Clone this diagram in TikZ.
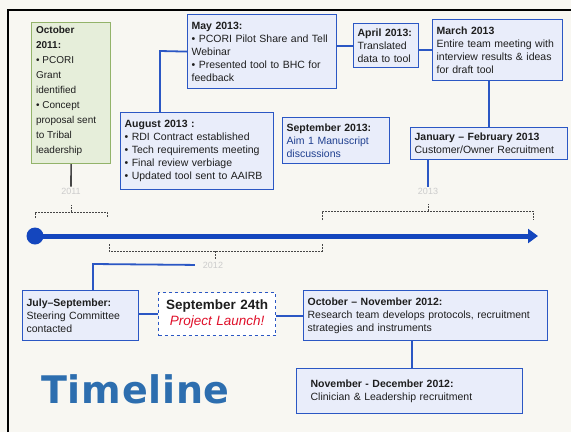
\documentclass[tikz,border=0pt]{standalone}
\usepackage{fontspec}
\setmainfont{Liberation Sans}
\newfontfamily\titlefont[LetterSpace=2]{DejaVu Sans}
\usetikzlibrary{arrows.meta}
\definecolor{bx}{HTML}{2B57C4}
\definecolor{bxfill}{HTML}{E9EDFA}
\definecolor{grn}{HTML}{93B36A}
\definecolor{grnfill}{HTML}{E6EEDA}
\definecolor{arr}{HTML}{1446BE}
\definecolor{bg}{HTML}{F8F7F2}
\definecolor{txt}{HTML}{1E1E1E}
\definecolor{ttl}{HTML}{2D6EAF}
\definecolor{lred}{HTML}{E0102A}
\definecolor{navy}{HTML}{1F3F8F}
\begin{document}
\begin{tikzpicture}[x=1pt,y=-1pt,
  box/.style={draw=bx, line width=1.2pt, fill=bxfill, anchor=north west, inner xsep=4pt, inner ysep=3pt,
    align=left, font=\fontsize{10.5}{13}\selectfont, text=txt},
  conn/.style={draw=bx, line width=1.8pt},
  brace/.style={draw=gray!55!black, line width=0.6pt, dash pattern=on 2pt off 1pt},
  yr/.style={text=gray!40, font=\fontsize{9}{10}\selectfont, inner sep=1pt}]
\useasboundingbox (0,0) rectangle (571,432);
\fill[bg] (0,0) rectangle (571,432);
\draw[line width=1.3pt] (8,432) -- (8,10) -- (571,10);

% boxes
\node[box, draw=grn, fill=grnfill, minimum width=79pt, minimum height=141pt, font=\fontsize{10}{15}\selectfont] (oct) at (31,22)
  {\parbox[c][133pt][t]{70pt}{\textbf{October\\2011:}\\• PCORI\\Grant\\identified\\• Concept\\proposal sent\\to Tribal\\leadership}};
\node[box, minimum width=149pt, minimum height=74pt, text width=141pt] (may) at (187,14)
  {\textbf{May 2013:}\\• PCORI Pilot Share and Tell\\Webinar\\• Presented tool to BHC for\\feedback};
\node[box, minimum width=65pt, minimum height=44pt, text width=57pt, inner ysep=2pt] (apr) at (353,23)
  {\textbf{April 2013:}\\Translated\\data to tool};
\node[box, minimum width=130pt, minimum height=61pt, text width=122pt] (mar) at (432,19)
  {\textbf{March 2013}\\Entire team meeting with\\interview results \& ideas\\for draft tool};
\node[box, minimum width=157pt, minimum height=32pt, text width=149pt] (jan) at (410,127)
  {\textbf{January – February 2013}\\Customer/Owner Recruitment};
\node[box, minimum width=153pt, minimum height=77pt, text width=145pt] (aug) at (120,112)
  {\textbf{August 2013 :}\\• RDI Contract established\\• Tech requirements meeting\\• Final review verbiage\\• Updated tool sent to AAIRB};
\node[box, minimum width=107pt, minimum height=46pt, text width=99pt] (sep) at (282,117)
  {\textbf{September 2013:}\\\textcolor{navy}{Aim 1 Manuscript}\\\textcolor{navy}{discussions}};
\node[box, minimum width=116pt, minimum height=50pt, text width=108pt] (jul) at (22,290)
  {\textbf{July–September:}\\Steering Committee\\contacted};
\node[box, fill=white, dashed, minimum width=117pt, minimum height=43pt, text width=109pt, align=center,
  font=\fontsize{13.5}{16}\selectfont] (launch) at (158,292)
  {\textbf{September 24th}\\\textcolor{lred}{\itshape Project Launch!}};
\node[box, minimum width=244pt, minimum height=50pt, text width=236pt] (octnov) at (303,290)
  {\textbf{October – November 2012:}\\Research team develops protocols, recruitment\\strategies and instruments};
\node[box, inner xsep=14pt, minimum width=226pt, minimum height=45pt, text width=198pt] (novdec) at (296,368)
  {\textbf{November - December 2012:}\\Clinician \& Leadership recruitment};

% title
\node[anchor=west, text=ttl, font=\titlefont\bfseries\fontsize{38}{40}\selectfont, inner sep=0pt] (title) at (41,389) {Timeline};

% year labels
\node[yr] (y2011) at (71,191) {2011};
\node[yr] (y2013) at (428,191) {2013};
\node[yr] (y2012) at (213,265) {2012};

% braces
\draw[brace] (35,218) -- (35,212) -- (107,212) -- (107,218);
\draw[brace] (71,212) -- (71,205);
\draw[brace] (322,220) -- (322,211) -- (533,211) -- (533,220);
\draw[brace] (428,211) -- (428,204);
\draw[brace] (109,244) -- (109,251) -- (322,251) -- (322,244);
\draw[brace] (215,251) -- (215,259);

% main timeline arrow
\node[circle, fill=arr, minimum size=17pt, inner sep=0pt] (dot) at (35,236) {};
\coordinate (tip) at (538,236);
\draw[arr, line width=5pt, -{Triangle[length=10pt,width=14pt]}] (dot.center) -- (tip);

% connectors
\draw[gray!55!black, line width=1.6pt] (oct.south) -- (y2011.north);
\draw[conn] (apr.west) -- (apr.west -| may.east);
\draw[conn] (mar.west) -- (mar.west -| apr.east);
\draw[conn] (jan.north) -- (jan.north |- mar.south);
\draw[conn] (jan.south -| y2013.north) -- (y2013.north);
\coordinate (ma) at (160,51);
\draw[conn] (may.west) -- (ma) -- (ma |- aug.north);
\coordinate (jc) at (93,264);
\draw[conn, shorten >=7pt] (jul.north -| jc) -- (jc) -- (y2012.west);
\draw[conn] (launch.west) -- (launch.west -| jul.east);
\draw[conn] (octnov.west) -- (octnov.west -| launch.east);
\draw[conn] (novdec.north -| 412,0) -- (octnov.south -| 412,0);
\end{tikzpicture}
\end{document}
